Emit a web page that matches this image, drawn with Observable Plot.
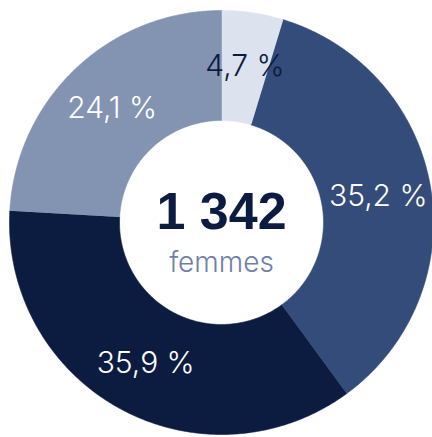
<!DOCTYPE html>
<html><head><meta charset="utf-8">
<script src="https://cdn.jsdelivr.net/npm/d3@7"></script>
<script src="https://cdn.jsdelivr.net/npm/@observablehq/plot@0.6"></script>
<style>html,body{margin:0;padding:0;background:#fff}</style>
</head><body><div id="chart"></div>
<script>
const categories = ["groupe1", "groupe2", "groupe3", "groupe4"];
const shares = [4.7, 35.2, 35.9, 24.1];
const shareLabels = ["4,7 %", "35,2 %", "35,9 %", "24,1 %"];
const totalValue = "1 342";
const totalLabel = "femmes";

const R = 212, r0 = 102, rl = 159;
const arcs = d3.pie().sort(null).value(d => d)(shares);
const ring = [];
arcs.forEach((p, i) => {
  const n = Math.max(4, Math.ceil((p.endAngle - p.startAngle) / 0.01));
  for (let k = 0; k <= n; k++) {
    const a = p.startAngle + (p.endAngle - p.startAngle) * k / n;
    ring.push({cat: categories[i], x: R * Math.sin(a), y: -R * Math.cos(a)});
  }
  for (let k = n; k >= 0; k--) {
    const a = p.startAngle + (p.endAngle - p.startAngle) * k / n;
    ring.push({cat: categories[i], x: r0 * Math.sin(a), y: -r0 * Math.cos(a)});
  }
});
const labels = arcs.map((p, i) => {
  const a = (p.startAngle + p.endAngle) / 2;
  return {cat: categories[i], text: shareLabels[i], x: rl * Math.sin(a), y: -rl * Math.cos(a)};
});
const font = "'Helvetica Neue', 'Liberation Sans', Arial, sans-serif";
const lightFont = "Inter, 'Liberation Sans', sans-serif";

const chart = Plot.plot({
  width: 432,
  height: 437,
  margin: 0,
  style: {background: "#fff"},
  x: {domain: [-221, 211], range: [0, 432], axis: null},
  y: {domain: [-222, 215], range: [0, 437], axis: null},
  color: {domain: categories, range: ["#dde3ee", "#344c7a", "#0b1c40", "#8393b2"]},
  marks: [
    Plot.line(ring, {x: "x", y: "y", z: "cat", fill: "cat", stroke: "cat", strokeWidth: 0.6, curve: "linear"}),
    Plot.text(labels.filter(d => d.cat === categories[0]), {x: "x", y: "y", text: "text", fill: "#0b1c40", fontSize: 30, fontWeight: 300, fontFamily: lightFont, dy: 1}),
    Plot.text(labels.filter(d => d.cat !== categories[0]), {x: "x", y: "y", text: "text", fill: "#ffffff", fontSize: 30, fontWeight: 300, fontFamily: lightFont, dy: 1}),
    Plot.text([totalValue], {x: 0, y: 0, text: d => d, fill: "#0b1c40", fontSize: 52, fontWeight: "bold", fontFamily: font, dy: -10}),
    Plot.text([totalLabel], {x: 0, y: 0, text: d => d, fill: "#6f80a8", fontSize: 28, fontWeight: 300, fontFamily: lightFont, dy: 41})
  ]
});
document.getElementById("chart").appendChild(chart);
</script>
</body></html>
